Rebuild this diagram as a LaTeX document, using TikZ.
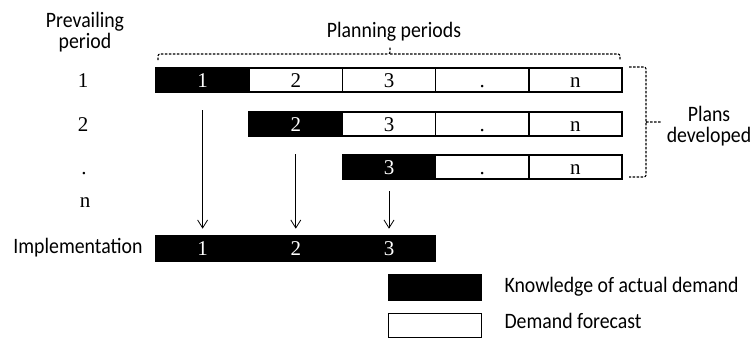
\documentclass[tikz,border=0pt]{standalone}
\usepackage{fontspec}
\setmainfont{Liberation Serif}
\newfontfamily\labelfont[FakeStretch=0.9]{Carlito}
\usetikzlibrary{arrows.meta}

\begin{document}
\begin{tikzpicture}[x=1pt,y=-1pt,
	actual/.style={draw=black,fill=black,text=white,line width=1.6pt,minimum width=93.2pt,minimum height=24.5pt,inner sep=0pt,text height=14pt,text depth=0pt,font=\fontsize{21}{21}\selectfont},
	forecast/.style={actual,fill=white,text=black},
	lbl/.style={font=\labelfont\fontsize{22}{21}\selectfont},
	num/.style={anchor=base,font=\fontsize{21}{21}\selectfont},
	brace/.style={dash pattern=on 2.5pt off 1.5pt,line width=1.1pt,rounded corners=2pt},
	down/.style={-{Straight Barb[length=8pt,width=10pt]},line width=0.8pt}]
\useasboundingbox (0,0) rectangle (752,340);
% define variables
\pgfmathparse{93.2}\let\cw=\pgfmathresult

% headings
\node[lbl,align=center] (prev) at (85,32.5) {Prevailing\\period};
\node[lbl,anchor=base] (plan) at (394,37) {Planning periods};
\node[lbl,align=center] (dev) at (709,126.5) {Plans\\developed};

% prevailing periods
\node[num] (pp1) at (83,87) {1};
\node[num] (pp2) at (83,131) {2};
\node[num] (pp3) at (84,174) {.};
\node[num] (ppn) at (85,207) {n};

% plans
\node[actual] (p1c1) at ({156+\cw*0.5},80) {1};
\foreach \k/\t in {2/2,3/3,4/.,5/n}{
	\node[forecast] (p1c\k) at ({156+\cw*(\k-0.5)},80) {\t};
}
\node[actual] (p2c2) at ({156+\cw*1.5},124) {2};
\foreach \k/\t in {3/3,4/.,5/n}{
	\node[forecast] (p2c\k) at ({156+\cw*(\k-0.5)},124) {\t};
}
\node[actual] (p3c3) at ({156+\cw*2.5},167) {3};
\foreach \k/\t in {4/.,5/n}{
	\node[forecast] (p3c\k) at ({156+\cw*(\k-0.5)},167) {\t};
}

% implementation
\node[lbl,anchor=east] (impl) at (146,248) {Implementation};
\foreach \k in {1,2,3}{
	\node[actual,minimum height=26pt] (i\k) at ({156+\cw*(\k-0.5)},248.5) {\k};
}

% arrows
\draw[down] ([yshift=-17pt]p1c1.south) -- ([yshift=6pt]i1.north);
\draw[down] ([yshift=-17pt]p2c2.south) -- ([yshift=6pt]i2.north);
\draw[down] ([yshift=-11pt]p3c3.south) -- ([yshift=6pt]i3.north);

% braces
\draw[brace] (158,60) -- (158,54) -- (390,54) -- (390,47) (390,54) -- (620,54) -- (620,60);
\draw[brace] (629,67) -- (646,67) -- (646,177) -- (629,177) (646,122) -- (662,122);

% legend
\node[actual,minimum width=93pt,minimum height=25.5pt] (kbox) at (435,287.5) {};
\node[forecast,minimum width=93pt,minimum height=24pt] (fbox) at (435,325.5) {};
\node[lbl,anchor=base west] (ktext) at (501,292) {Knowledge of actual demand};
\node[lbl,anchor=base west] (ftext) at (501,328) {Demand forecast};
\end{tikzpicture}
\end{document}
